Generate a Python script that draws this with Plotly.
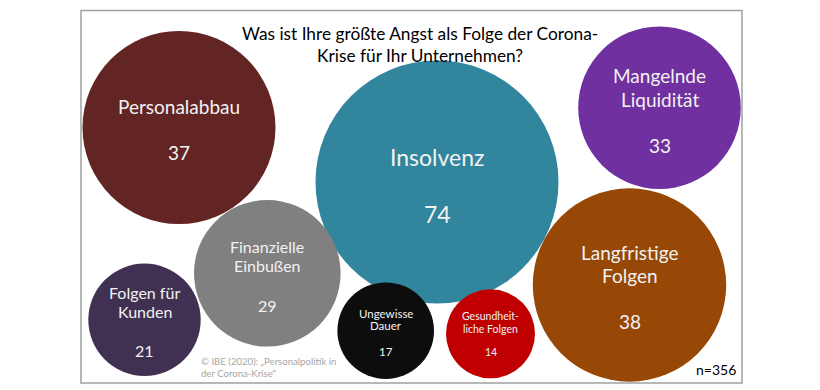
import plotly.graph_objects as go

# ---- data ----
categories = ["Personalabbau", "Insolvenz", "Mangelnde Liquidität", "Langfristige Folgen",
              "Finanzielle Einbußen", "Folgen für Kunden", "Ungewisse Dauer", "Gesundheitliche Folgen"]
label_lines = [["Personalabbau"], ["Insolvenz"], ["Mangelnde", "Liquidität"], ["Langfristige", "Folgen"],
               ["Finanzielle", "Einbußen"], ["Folgen für", "Kunden"], ["Ungewisse", "Dauer"],
               ["Gesundheit-", "liche Folgen"]]
values = [37, 74, 33, 38, 29, 21, 17, 14]
title_text = "Was ist Ihre größte Angst als Folge der Corona-<br>Krise für Ihr Unternehmen?"
sample_note = "n=356"
source_lines = ["© IBE (2020): „Personalpolitik in", "der Corona-Krise“"]

# ---- layout / style (pixel positions on the window) ----
colors = ["#632523", "#31859C", "#7030A0", "#974806", "#808080", "#403152", "#0D0D0D", "#C00000"]
cx = [179, 437, 659.5, 629.5, 267.3, 144.5, 385.7, 490.5]
cy = [127.5, 182, 107.7, 285, 273.3, 319.8, 330.7, 333.8]
radius = [96.5, 121.5, 81.3, 96.7, 73.3, 56.2, 48.3, 44.5]
label_y = [[106.5], [157], [75.7, 99], [252.7, 275.7], [246, 265], [292.7, 311.7], [313, 325.5], [316, 328.7]]
num_y = [152.7, 214, 145, 321, 305, 350.7, 351.7, 351.7]
font_size = [19, 23, 19, 19, 16, 16, 11.5, 10.5]

FONT = "Lato"
W, H = 820, 390
OFF = 8  # default page body margin

fig = go.Figure()
fig.add_trace(go.Scatter(
    x=cx, y=cy, mode="markers",
    marker=dict(size=[2 * r for r in radius], sizemode="diameter", color=colors,
                opacity=1, line=dict(width=0)),
    hoverinfo="text", text=[f"{c}: {v}" for c, v in zip(categories, values)],
    showlegend=False,
))

ann = []
for i in range(len(categories)):
    for line, yy in zip(label_lines[i], label_y[i]):
        ann.append(dict(x=cx[i], y=yy, text=line, showarrow=False, xanchor="center", yanchor="middle",
                        font=dict(family=FONT, size=font_size[i], color="#F2F2F2")))
    ann.append(dict(x=cx[i], y=num_y[i], text=str(values[i]), showarrow=False, xanchor="center",
                    yanchor="middle", font=dict(family=FONT, size=font_size[i], color="#F2F2F2")))

ann.append(dict(x=420, y=44, text=title_text, showarrow=False, xanchor="center", yanchor="middle",
                align="center", font=dict(family=FONT, size=17.3, color="#000000")))
ann.append(dict(x=737.5, y=369, text=sample_note, showarrow=False, xanchor="right", yanchor="middle",
                font=dict(family=FONT, size=14, color="#000000")))
for line, yy in zip(source_lines, [361, 373.3]):
    ann.append(dict(x=199, y=yy, text=line, showarrow=False, xanchor="left", yanchor="middle",
                    font=dict(family=FONT, size=9.6, color="#A6A6A6")))

fig.update_layout(
    width=W - OFF, height=H - OFF, margin=dict(l=0, r=0, t=0, b=0),
    paper_bgcolor="white", plot_bgcolor="white",
    xaxis=dict(range=[OFF, W], visible=False, fixedrange=True),
    yaxis=dict(range=[H, OFF], visible=False, fixedrange=True),
    annotations=ann,
    shapes=[dict(type="rect", xref="x", yref="y", x0=81, y0=10.5, x1=742, y1=383,
                 line=dict(color="#A0A0A0", width=1.5), layer="below")],
)

fig.write_html("out.html", config={"displayModeBar": False})
